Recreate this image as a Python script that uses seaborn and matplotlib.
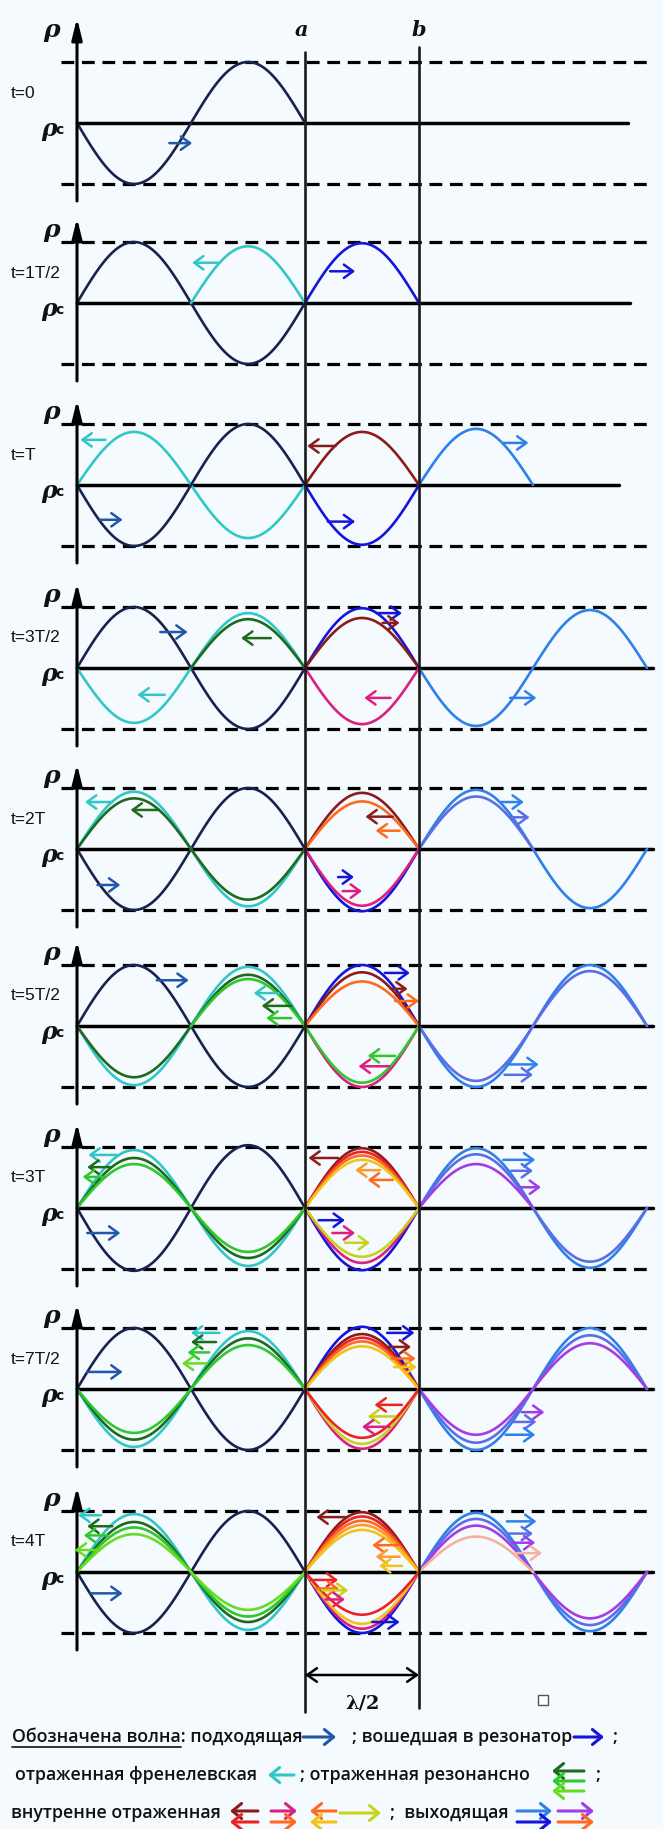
import numpy as np
import pandas as pd
import matplotlib
matplotlib.use("Agg")
from matplotlib import pyplot as plt
import seaborn as sns

# colours of the wave families
NAVY = "#17234f"
NAVY_ARR = "#2456a8"
CYAN = "#33c6c6"
BLUE = "#1414dc"
DRED = "#8c1c1c"
LBLUE = "#2f80e8"
BVIOL = "#5c6ee6"
PURPLE = "#a43ce6"
DGREEN = "#1f6a1f"
GREEN = "#2ec82e"
LGREEN = "#66dd22"
MAGENTA = "#dc1f80"
RED = "#ee2222"
ORANGE = "#ff6a1e"
LORANGE = "#ff9a2a"
YELLOW = "#f0c419"
YGREEN = "#c7d21a"
SALMON = "#f4b1a0"
BG = "#f4fafd"

# x in units of lambda/2 (0 = rho axis, 2 = mirror a, 3 = mirror b)
time_labels = ["t=0", "t=1T/2", "t=T", "t=3T/2", "t=2T", "t=5T/2", "t=3T", "t=7T/2", "t=4T"]
baselines = [123, 303, 485, 668, 849, 1026, 1208, 1389, 1572]
baseline_end = [4.83, 4.85, 4.75, 5.05, 5.05, 5.05, 5.05, 5.05, 5.05]

# waves: (x start, x end, amplitude (sign = first hump), colour)
waves_t0 = [(0, 2, -1.0, NAVY)]
waves_t1 = [(0, 2, 1.0, NAVY), (1, 2, 0.93, CYAN), (2, 3, 0.98, BLUE)]
waves_t2 = [(0, 2, 0.87, CYAN), (0, 2, -1.0, NAVY), (2, 3, 0.87, DRED), (2, 3, -0.98, BLUE),
            (3, 4, 0.92, LBLUE)]
waves_t3 = [(0, 2, 1.0, NAVY), (0, 2, -0.9, CYAN), (1, 2, 0.8, DGREEN), (2, 3, 0.98, BLUE),
            (2, 3, 0.82, DRED), (2, 3, -0.92, MAGENTA), (3, 5, -0.95, LBLUE)]
waves_t4 = [(0, 2, -1.0, NAVY), (0, 2, 0.94, CYAN), (0, 2, 0.83, DGREEN), (2, 3, 0.92, DRED),
            (2, 3, 0.78, ORANGE), (2, 3, -1.02, BLUE), (2, 3, -0.93, MAGENTA),
            (3, 5, 0.97, LBLUE), (3, 4, 0.86, BVIOL)]
waves_t5 = [(0, 2, 1.0, NAVY), (0, 2, -0.97, CYAN), (0, 2, -0.84, DGREEN), (1, 2, 0.77, GREEN),
            (2, 3, 1.0, BLUE), (2, 3, 0.88, DRED), (2, 3, 0.73, ORANGE), (2, 3, -1.0, MAGENTA),
            (2, 3, -0.93, GREEN), (3, 5, -1.0, LBLUE), (3, 5, -0.9, BVIOL)]
waves_t6 = [(0, 2, -1.03, NAVY), (0, 2, 0.95, CYAN), (0, 2, 0.82, DGREEN), (0, 2, 0.72, GREEN),
            (2, 3, 0.98, DRED), (2, 3, 0.92, RED), (2, 3, 0.86, ORANGE), (2, 3, 0.79, YELLOW),
            (2, 3, -1.02, BLUE), (2, 3, -0.9, MAGENTA), (2, 3, -0.8, YGREEN),
            (3, 5, 0.98, LBLUE), (3, 5, 0.88, BVIOL), (3, 4, 0.72, PURPLE)]
waves_t7 = [(0, 2, 1.0, NAVY), (0, 2, -0.95, CYAN), (0, 2, -0.83, DGREEN), (0, 2, -0.72, GREEN),
            (2, 3, 1.02, BLUE), (2, 3, 0.9, DRED), (2, 3, 0.84, RED), (2, 3, 0.78, ORANGE),
            (2, 3, 0.7, YELLOW), (2, 3, -0.98, MAGENTA), (2, 3, -0.9, YGREEN), (2, 3, -0.8, RED),
            (3, 5, -1.0, LBLUE), (3, 5, -0.88, BVIOL), (3, 5, -0.75, PURPLE)]
waves_t8 = [(0, 2, -1.0, NAVY), (0, 2, 0.95, CYAN), (0, 2, 0.82, DGREEN), (0, 2, 0.73, GREEN),
            (0, 2, 0.62, LGREEN), (2, 3, 0.98, DRED), (2, 3, 0.91, RED), (2, 3, 0.84, ORANGE),
            (2, 3, 0.77, LORANGE), (2, 3, 0.69, YELLOW), (2, 3, -1.0, BLUE),
            (2, 3, -0.93, MAGENTA), (2, 3, -0.85, YELLOW), (2, 3, -0.7, RED),
            (3, 5, 0.97, LBLUE), (3, 5, 0.87, BVIOL), (3, 5, 0.76, PURPLE), (3, 4, 0.58, SALMON)]

# arrows: (x tail, x head, height in amplitudes, colour)
arrows_t0 = [(0.81, 1.01, -0.33, NAVY_ARR)]
arrows_t1 = [(1.25, 1.01, 0.66, CYAN), (2.22, 2.44, 0.52, BLUE)]
arrows_t2 = [(0.25, 0.03, 0.74, CYAN), (0.2, 0.4, -0.57, NAVY_ARR), (2.27, 2.02, 0.64, DRED),
             (2.2, 2.44, -0.6, BLUE), (3.74, 3.96, 0.69, LBLUE)]
arrows_t3 = [(0.73, 0.97, 0.59, NAVY_ARR), (0.77, 0.53, -0.44, CYAN), (1.7, 1.44, 0.49, DGREEN),
             (2.63, 2.85, 0.9, BLUE), (2.68, 2.83, 0.74, DRED), (2.75, 2.52, -0.49, MAGENTA),
             (3.8, 4.03, -0.49, LBLUE)]
arrows_t4 = [(0.31, 0.07, 0.77, CYAN), (0.72, 0.47, 0.64, DGREEN), (0.18, 0.38, -0.59, NAVY_ARR),
             (2.77, 2.53, 0.53, DRED), (2.83, 2.62, 0.3, ORANGE), (2.29, 2.43, -0.46, BLUE),
             (2.33, 2.5, -0.69, MAGENTA), (3.72, 3.92, 0.77, LBLUE), (3.8, 3.97, 0.52, BVIOL)]
arrows_t5 = [(0.7, 0.98, 0.75, NAVY_ARR), (1.77, 1.55, 0.54, CYAN), (1.88, 1.62, 0.33, DGREEN),
             (1.88, 1.66, 0.13, GREEN), (2.7, 2.92, 0.87, BLUE), (2.75, 2.9, 0.61, DRED),
             (2.79, 3.0, 0.41, ORANGE), (2.79, 2.55, -0.49, GREEN), (2.74, 2.47, -0.66, MAGENTA),
             (3.77, 4.05, -0.63, LBLUE), (3.75, 4.0, -0.8, BVIOL)]
arrows_t6 = [(0.35, 0.1, 0.87, CYAN), (0.29, 0.09, 0.67, DGREEN), (0.24, 0.05, 0.51, GREEN),
             (0.09, 0.38, -0.41, NAVY_ARR), (2.29, 2.03, 0.82, DRED), (2.66, 2.44, 0.62, LORANGE),
             (2.77, 2.55, 0.46, ORANGE), (2.12, 2.35, -0.2, BLUE), (2.24, 2.44, -0.41, MAGENTA),
             (2.35, 2.57, -0.57, YGREEN), (3.74, 4.02, 0.79, LBLUE), (3.81, 4.0, 0.61, BVIOL),
             (3.89, 4.07, 0.34, PURPLE)]
arrows_t7 = [(1.25, 1.0, 0.92, CYAN), (1.22, 1.0, 0.77, DGREEN), (1.16, 0.97, 0.6, GREEN),
             (1.14, 0.92, 0.42, LGREEN), (0.09, 0.4, 0.28, NAVY_ARR), (2.72, 2.96, 0.92, BLUE),
             (2.72, 2.93, 0.69, DRED), (2.76, 2.97, 0.5, ORANGE), (2.78, 2.98, 0.36, YELLOW),
             (2.85, 2.61, -0.26, RED), (2.79, 2.55, -0.45, YGREEN), (2.74, 2.5, -0.62, MAGENTA),
             (3.9, 4.1, -0.38, PURPLE), (3.83, 4.03, -0.54, BVIOL), (3.76, 4.02, -0.75, LBLUE)]
arrows_t8 = [(0.21, 0.01, 0.93, CYAN), (0.31, 0.09, 0.75, DGREEN), (0.27, 0.06, 0.6, GREEN),
             (0.2, -0.02, 0.36, LGREEN), (0.12, 0.4, -0.35, NAVY_ARR), (2.37, 2.1, 0.9, DRED),
             (2.81, 2.59, 0.44, ORANGE), (2.83, 2.62, 0.25, LORANGE), (2.85, 2.65, 0.1, YELLOW),
             (2.05, 2.29, -0.13, RED), (2.1, 2.3, -0.27, ORANGE), (2.15, 2.38, -0.3, YGREEN),
             (2.18, 2.35, -0.45, MAGENTA), (2.59, 2.83, -0.82, BLUE), (3.77, 4.03, 0.83, LBLUE),
             (3.79, 4.0, 0.63, BVIOL), (3.82, 4.02, 0.48, PURPLE), (3.85, 4.08, 0.31, SALMON)]

panel_waves = [waves_t0, waves_t1, waves_t2, waves_t3, waves_t4, waves_t5, waves_t6, waves_t7, waves_t8]
panel_arrows = [arrows_t0, arrows_t1, arrows_t2, arrows_t3, arrows_t4, arrows_t5, arrows_t6,
                arrows_t7, arrows_t8]

AMP = 61       # pixels per unit amplitude
X0_PX = 77     # pixel column of the rho axis
UNIT_PX = 114  # pixels per lambda/2


def ux(px):
    return (px - X0_PX) / UNIT_PX


sns.set_theme(style="white")
plt.rcParams["font.family"] = ["Open Sans", "DejaVu Sans"]

fig = plt.figure(figsize=(6.63, 18.29), dpi=100)
fig.patch.set_facecolor(BG)
ax = fig.add_axes([0, 0, 1, 1])
ax.set_facecolor(BG)
ax.set_xlim(ux(0), ux(663))
ax.set_ylim(1829, 0)

# long table of all wave segments
frames = []
order = []
palette = {}
for p in range(len(baselines)):
    for k, (x0, x1, amp, col) in enumerate(panel_waves[p]):
        seg = str(p) + "-" + str(k)
        xs = np.linspace(x0, x1, 90)
        ys = baselines[p] - amp * AMP * np.sin(np.pi * (xs - x0))
        frames.append(pd.DataFrame({"x": xs, "y": ys, "seg": seg}))
        order.append(seg)
        palette[seg] = col
waves = pd.concat(frames, ignore_index=True)

# axes, baselines and dashed amplitude levels
for p, base in enumerate(baselines):
    ax.plot([0, baseline_end[p]], [base, base], color="black", lw=2.5, zorder=1)
    for lvl in (-AMP, AMP):
        ax.plot([-0.14, 5.02], [base + lvl, base + lvl], color="black", lw=2.3,
                ls=(0, (4, 2.4)), zorder=1)
    tip = 105 if p == 0 else 85
    ax.annotate("", xy=(0, base - tip), xytext=(0, base + 78),
                arrowprops=dict(arrowstyle="-|>,head_length=0.9,head_width=0.22", lw=2.2,
                                color="black", shrinkA=0, shrinkB=0, mutation_scale=14))
    ax.text(ux(11), base - 30, time_labels[p], fontsize=12.5, ha="left", va="center",
            family=["Liberation Sans", "DejaVu Sans"], color="#111")
    ax.text(ux(52), base - tip + 12, "ρ", fontsize=18, ha="center", va="center",
            family="DejaVu Serif", style="italic", weight="bold", color="#111")
    ax.text(ux(49), base + 6, "ρ", fontsize=17, ha="center", va="center",
            family="DejaVu Serif", style="italic", weight="bold", color="#111")
    ax.text(ux(59), base + 7, "c", fontsize=10, ha="center", va="center",
            family="DejaVu Sans", weight="bold", color="#111")

sns.lineplot(data=waves, x="x", y="y", hue="seg", hue_order=order, palette=palette,
             estimator=None, sort=False, legend=False, lw=1.9, ax=ax, zorder=2)

for p, base in enumerate(baselines):
    for xa, xb, h, col in panel_arrows[p]:
        ax.annotate("", xy=(xb, base - h * AMP), xytext=(xa, base - h * AMP),
                    arrowprops=dict(arrowstyle="->,head_length=0.55,head_width=0.4", color=col,
                                    lw=1.8, shrinkA=0, shrinkB=0, mutation_scale=12),
                    zorder=4)

# mirrors a and b
ax.plot([2, 2], [52, 1712], color="#1a1a1a", lw=1.9, zorder=3)
ax.plot([3, 3], [47, 1708], color="#1a1a1a", lw=1.9, zorder=3)
ax.text(1.97, 30, "a", fontsize=15, ha="center", va="center", family="DejaVu Serif",
        style="italic", weight="bold", color="#111")
ax.text(3.0, 30, "b", fontsize=15, ha="center", va="center", family="DejaVu Serif",
        style="italic", weight="bold", color="#111")

# lambda/2 dimension
ax.annotate("", xy=(2, 1675), xytext=(3, 1675),
            arrowprops=dict(arrowstyle="<->,head_length=0.5,head_width=0.35", color="black",
                            lw=1.8, shrinkA=0, shrinkB=0, mutation_scale=14))
ax.text(2.5, 1703, "λ/2", fontsize=14, ha="center", va="center", family="DejaVu Serif",
        weight="bold", color="#111")
ax.plot(ux(543), 1700, marker="s", ms=7, mfc="white", mec="#555", mew=1)

# legend text
FS = 12.8
txt_kw = dict(fontsize=FS, ha="left", va="center", color="#111", weight="semibold")
y1, y2, y3 = 1737, 1775, 1813


def leg_arrow(x_from, x_to, y, col):
    ax.annotate("", xy=(ux(x_to), y), xytext=(ux(x_from), y),
                arrowprops=dict(arrowstyle="->,head_length=0.55,head_width=0.45", color=col,
                                lw=2.2, shrinkA=0, shrinkB=0, mutation_scale=12))


# measure the underlined words, then write the full line as one text
probe = ax.text(ux(12), y1, "Обозначена волна", **txt_kw)
fig.canvas.draw()
bb = probe.get_window_extent().transformed(ax.transData.inverted())
probe.remove()
ax.text(ux(12), y1, "Обозначена волна: подходящая", **txt_kw)
ax.plot([bb.x0, bb.x1], [y1 + 10, y1 + 10], color="#111", lw=1.2)
leg_arrow(303, 336, y1, NAVY_ARR)
ax.text(ux(352), y1, "; вошедшая в резонатор", **txt_kw)
leg_arrow(574, 604, y1, BLUE)
ax.text(ux(612), y1, ";", **txt_kw)

ax.text(ux(15), y2, "отраженная френелевская", **txt_kw)
leg_arrow(294, 268, y2, CYAN)
ax.text(ux(300), y2, "; отраженная резонансно", **txt_kw)
leg_arrow(584, 552, y2 - 4, DGREEN)
leg_arrow(584, 552, y2 + 6, GREEN)
leg_arrow(584, 552, y2 + 16, LGREEN)
ax.text(ux(595), y2, ";", **txt_kw)

ax.text(ux(11), y3, "внутренне отраженная", **txt_kw)
leg_arrow(258, 230, y3 - 2, DRED)
leg_arrow(258, 230, y3 + 9, RED)
leg_arrow(271, 297, y3 - 2, MAGENTA)
leg_arrow(271, 297, y3 + 9, ORANGE)
leg_arrow(336, 310, y3 - 2, ORANGE)
leg_arrow(336, 310, y3 + 9, YELLOW)
leg_arrow(340, 381, y3, YGREEN)
ax.text(ux(390), y3, ";  выходящая", **txt_kw)
leg_arrow(517, 552, y3 - 2, LBLUE)
leg_arrow(517, 552, y3 + 9, BLUE)
leg_arrow(558, 594, y3 - 2, PURPLE)
leg_arrow(558, 594, y3 + 9, ORANGE)

ax.set_xlim(ux(0), ux(663))
ax.set_ylim(1829, 0)
ax.axis("off")

fig.savefig("out.png", dpi=100, facecolor=BG)
